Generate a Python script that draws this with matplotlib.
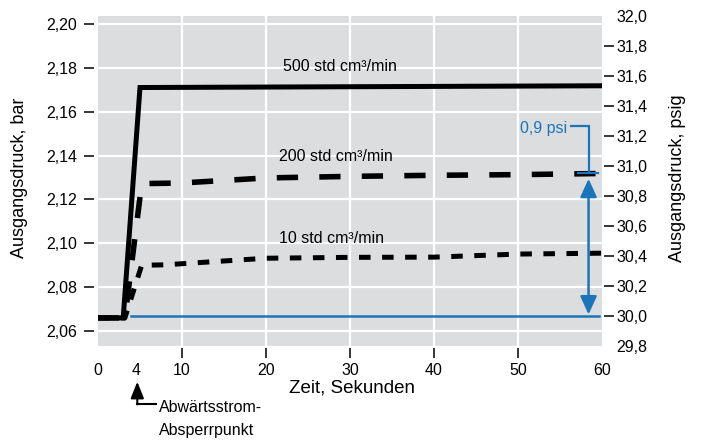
import numpy as np
import matplotlib
matplotlib.use("Agg")
import matplotlib.pyplot as plt
from matplotlib.lines import Line2D

plt.rcParams['font.family'] = ['Liberation Sans', 'DejaVu Sans']
plt.rcParams['lines.scale_dashes'] = False

# Daten
t_500 = [0, 3.0, 5.0, 60]
p_500 = [2.066, 2.066, 2.171, 2.1718]

t_200 = [0, 3.2, 5.2, 10, 20, 30, 40, 50, 59.5]
p_200 = [2.066, 2.066, 2.1272, 2.1275, 2.1298, 2.1305, 2.1310, 2.1313, 2.1318]

t_10 = [0, 3.2, 5.2, 8, 20, 30, 40, 50, 60]
p_10 = [2.066, 2.066, 2.0900, 2.0902, 2.0932, 2.0936, 2.0937, 2.0951, 2.0955]

ref_psi = 30.0          # Abwärtsstrom-Absperrpunkt
delta_psi = 0.9

xticks = [0, 4.5, 10, 20, 30, 40, 50, 60]
xlabels = ['0', '4', '10', '20', '30', '40', '50', '60']
bar_ticks = [2.06, 2.08, 2.10, 2.12, 2.14, 2.16, 2.18, 2.20]
psi_ticks = [29.8, 30.0, 30.2, 30.4, 30.6, 30.8, 31.0, 31.2, 31.4, 31.6, 31.8, 32.0]

blue = '#1a76b9'
grau = '#dcdddf'
W, H = 702, 442

fig = plt.figure(figsize=(W/100, H/100), dpi=100)
ax = fig.add_axes([98/W, 1-346/H, 504/W, 330/H])
ax.set_facecolor(grau)
ax.set_xlim(0, 60)
ax.set_ylim(2.0532, 2.2036)

for s in ax.spines.values():
    s.set_visible(False)
ax.spines['left'].set_position(('outward', 3))
ax.spines['bottom'].set_position(('outward', 1.5))

ax.set_xticks(xticks)
ax.set_xticklabels(xlabels)
ax.set_yticks(bar_ticks)
ax.set_yticklabels([f"{v:.2f}".replace('.', ',') for v in bar_ticks])
ax.tick_params(axis='y', length=7, width=1.1, pad=5, labelsize=11.5)
ax.tick_params(axis='x', length=7, width=1.1, pad=4, labelsize=11.5)
for i, tk in enumerate(ax.xaxis.get_major_ticks()):
    if xlabels[i] in ('0', '4', '60'):
        tk.tick1line.set_visible(False)

# Gitter
ax.grid(False)
for v in bar_ticks:
    ax.axhline(v, color='white', lw=1.6, zorder=1)
for v in [10, 20, 30, 40, 50]:
    ax.axvline(v, color='white', lw=1.6, zorder=1)

ax.plot(t_500, p_500, color='black', lw=3.6, solid_capstyle='butt', solid_joinstyle='miter', zorder=4)
ax.plot(t_200, p_200, color='black', lw=4.0, dashes=(15.3, 15.3), dash_capstyle='butt', zorder=3)
ax.plot(t_10, p_10, color='black', lw=3.6, dashes=(8.3, 8.3), dash_capstyle='butt', zorder=3)

ax.text(22.0, 2.1786, '500 std cm³/min', fontsize=11.5, ha='left', va='baseline')
ax.text(21.5, 2.1375, '200 std cm³/min', fontsize=11.5, ha='left', va='baseline')
ax.text(21.6, 2.1003, '10 std cm³/min', fontsize=11.5, ha='left', va='baseline')

# rechte Achse in psig
ax2 = ax.twinx()
ax2.set_ylim(29.8, 32.0)
ax2.set_facecolor('none')
for s in ax2.spines.values():
    s.set_visible(False)
ax2.spines['right'].set_position(('outward', 1.5))
ax2.set_yticks(psi_ticks)
ax2.set_yticklabels([f"{v:.1f}".replace('.', ',') for v in psi_ticks])
ax2.tick_params(axis='y', length=7, width=1.1, pad=2, labelsize=11.5)
for i, tk in enumerate(ax2.yaxis.get_major_ticks()):
    if i in (0, len(psi_ticks) - 1):
        tk.tick2line.set_visible(False)

ax2.plot([3.95, 59.6], [ref_psi, ref_psi], color=blue, lw=1.8, zorder=5)
top = ref_psi + 0.955
ax2.plot([56.3, 58.4, 58.4], [31.27, 31.27, top], color=blue, lw=1.6, solid_joinstyle='miter')
ax2.plot([57.1, 59.5], [top, top], color=blue, lw=1.6)
ax2.annotate('', xy=(58.4, ref_psi + 0.01), xytext=(58.4, top - 0.04),
             arrowprops=dict(arrowstyle='<|-|>,head_length=1.1,head_width=0.5',
                             color=blue, lw=1.8, shrinkA=0, shrinkB=0))
ax2.text(55.86, 31.217, f"{delta_psi:.1f}".replace('.', ',') + ' psi', color=blue,
         fontsize=11.5, ha='right', va='baseline')

# Achsentitel
fig.text(20/W, 1-178/H, 'Ausgangsdruck, bar', rotation=90, ha='center', va='center', fontsize=13)
fig.text(678/W, 1-178/H, 'Ausgangsdruck, psig', rotation=90, ha='center', va='center', fontsize=13)
fig.text(352/W, 1-388/H, 'Zeit, Sekunden', ha='center', va='center', fontsize=13.5)

# Absperrpunkt-Pfeil
ax.annotate('', xy=(137.3/W, 1-381.7/H), xytext=(137.3/W, 1-404.3/H),
            xycoords='figure fraction', textcoords='figure fraction',
            arrowprops=dict(arrowstyle='-|>,head_length=1.0,head_width=0.4',
                            color='black', lw=1.5, shrinkA=0, shrinkB=0))
fig.add_artist(Line2D([137.3/W, 156/W], [1-404.3/H, 1-404.3/H], color='black', lw=1.5,
                      transform=fig.transFigure))
fig.text(159.3/W, 1-407/H, 'Abwärtsstrom-', ha='left', va='center', fontsize=11.5)
fig.text(159.3/W, 1-430/H, 'Absperrpunkt', ha='left', va='center', fontsize=11.5)

fig.savefig('out.png', dpi=100, facecolor='white')
